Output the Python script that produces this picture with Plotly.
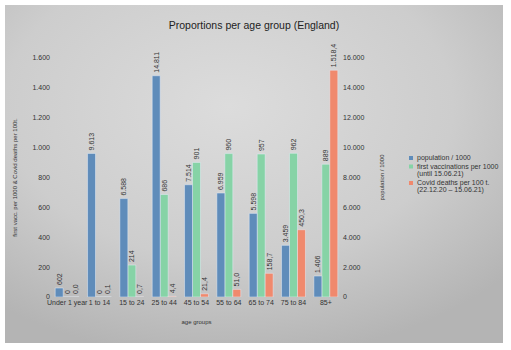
import plotly.graph_objects as go
import urllib.parse

categories = ["Under 1 year", "1 to 14", "15 to 24", "25 to 44", "45 to 54",
              "55 to 64", "65 to 74", "75 to 84", "85+"]
population = [602, 9613, 6588, 14811, 7514, 6959, 5598, 3459, 1406]
first_vacc = [0, 0, 214, 686, 901, 960, 957, 962, 889]
deaths = [0.0, 0.1, 0.7, 4.4, 21.4, 51.0, 158.7, 450.3, 1518.4]
series_names = [["population / 1000"],
                ["first vaccinations per 1000", "(until 15.06.21)"],
                ["Covid deaths per 100 t.", "(22.12.20 – 15.06.21)"]]

BLUE = "#5f8cba"
GREEN = "#86d3a6"
RED = "#f0896d"
TXT = "#333333"
FONT = "Liberation Sans, Arial, sans-serif"
colors = [BLUE, GREEN, RED]

L, R, T, B = 51, 169, 58, 53
W, H = 511, 350
pw, ph = W - L - R, H - T - B
def px(x): return (x - L) / pw
def py(y): return (H - B - y) / ph

fig = go.Figure()
common = dict(textposition="outside", textangle=-90, constraintext="none",
              textfont=dict(size=7, color=TXT), cliponaxis=False, showlegend=False)
fig.add_trace(go.Bar(x=categories, y=population, name=series_names[0][0],
                     marker_color=BLUE, yaxis="y2", offsetgroup="a",
                     texttemplate="%{y:,d}", **common))
fig.add_trace(go.Bar(x=categories, y=first_vacc, name=" ".join(series_names[1]),
                     marker_color=GREEN, yaxis="y", offsetgroup="b",
                     texttemplate="%{y:,d}", **common))
fig.add_trace(go.Bar(x=categories, y=deaths, name=" ".join(series_names[2]),
                     marker_color=RED, yaxis="y", offsetgroup="c",
                     texttemplate="%{y:,.1f}", **common))

svg = ('<svg xmlns="http://www.w3.org/2000/svg" width="500" height="340" preserveAspectRatio="none">'
       '<defs><radialGradient id="g" cx="0.45" cy="0.3" r="0.75">'
       '<stop offset="0" stop-color="#dcdcdc"/><stop offset="0.6" stop-color="#cdcdcd"/>'
       '<stop offset="1" stop-color="#b4b4b4"/></radialGradient></defs>'
       '<rect width="500" height="340" fill="url(#g)"/></svg>')
src = "data:image/svg+xml;charset=utf-8," + urllib.parse.quote(svg)

# custom compact legend (one annotation per line)
shapes = []
annotations = []
line_centres = [[158], [166.5, 173.5], [183, 190]]
for lines, col, centres in zip(series_names, colors, line_centres):
    c0 = centres[0]
    shapes.append(dict(type="rect", xref="paper", yref="paper",
                       x0=px(409), x1=px(413), y0=py(c0 - 2), y1=py(c0 + 2),
                       fillcolor=col, line=dict(width=0)))
    for text, c in zip(lines, centres):
        annotations.append(dict(text=text, xref="paper", yref="paper",
                                x=px(415), y=py(c), xanchor="left", yanchor="middle",
                                align="left", showarrow=False,
                                font=dict(size=7, color=TXT, family=FONT)))

fig.update_layout(
    width=W, height=H,
    margin=dict(l=L, r=R, t=T, b=B, autoexpand=False),
    paper_bgcolor="white", plot_bgcolor="rgba(0,0,0,0)",
    separators=",.",
    barmode="group", bargap=0.26, bargroupgap=0,
    showlegend=False,
    font=dict(family=FONT, size=7, color=TXT),
    title=dict(text="Proportions per age group (England)", x=254 / W, xref="container",
               xanchor="center", y=1 - 25 / H, yanchor="middle",
               font=dict(size=10.5, color="#222222")),
    xaxis=dict(title=dict(text="age groups", font=dict(size=6), standoff=13),
               showgrid=False, showline=False, ticks="", tickangle=0,
               tickfont=dict(size=7), automargin=False),
    yaxis=dict(range=[0, 1600], dtick=200, tickformat=",d", showgrid=False,
               zeroline=False, tickfont=dict(size=7), automargin=False,
               title=dict(text="first vacc. per 1000 & Covid deaths per 100t.",
                          font=dict(size=6), standoff=14)),
    yaxis2=dict(range=[0, 16000], dtick=2000, tickformat=",d", overlaying="y",
                side="right", showgrid=False, zeroline=False, tickfont=dict(size=7),
                automargin=False,
                title=dict(text="population / 1000", font=dict(size=6), standoff=16)),
    shapes=shapes,
    annotations=annotations,
    images=[dict(source=src, xref="paper", yref="paper",
                 x=px(5), y=py(5), sizex=(503 - 5) / pw, sizey=(343 - 5) / ph,
                 xanchor="left", yanchor="top", sizing="stretch", layer="below")],
)

fig.write_html("out.html")
